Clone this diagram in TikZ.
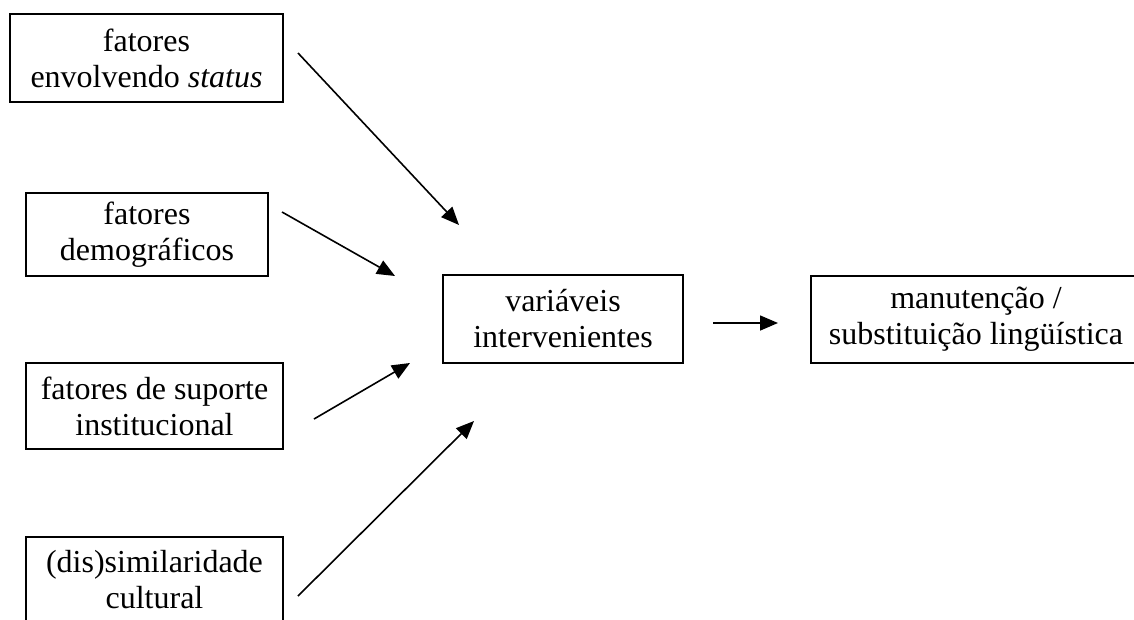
\documentclass[tikz,border=0pt]{standalone}
\usepackage{fontspec}
\setmainfont{Liberation Serif}
\usetikzlibrary{arrows.meta}
\tikzset{
  box/.style={draw, line width=1.6pt, align=center, inner sep=0pt, font=\fontsize{32}{36}\selectfont},
  arr/.style={line width=1.6pt, -{Triangle[length=18pt,width=15pt]}}
}
\begin{document}
\begin{tikzpicture}[x=1pt,y=-1pt]
\useasboundingbox (0,0) rectangle (1134,619);
\node[box, minimum width=273pt, minimum height=88pt] (b1) at (146.5,58) {fatores\\envolvendo \textit{status}};
\node[box, minimum width=242pt, minimum height=83pt] (b2) at (147,234.5) {fatores\\demográficos};
\node[box, minimum width=257pt, minimum height=86pt] (b3) at (154.5,406) {fatores de suporte\\institucional};
\node[box, minimum width=257pt, minimum height=86pt] (b4) at (154.5,580) {(dis)similaridade\\cultural};
\node[box, minimum width=240pt, minimum height=88pt] (bc) at (563,319) {variáveis\\intervenientes};
\node[box, minimum width=330pt, minimum height=87pt] (br) at (976,319.5) {manutenção /\\substituição lingüística};
\coordinate (s1) at (298,53);  \coordinate (t1) at (459,225);
\coordinate (s2) at (282,212); \coordinate (t2) at (395,276);
\coordinate (s3) at (314,419); \coordinate (t3) at (410,363);
\coordinate (s4) at (298,596); \coordinate (t4) at (474,421);
\coordinate (s5) at (713,323); \coordinate (t5) at (778,323);
\draw[arr] (s1) -- (t1);
\draw[arr] (s2) -- (t2);
\draw[arr] (s3) -- (t3);
\draw[arr] (s4) -- (t4);
\draw[arr] (s5) -- (t5);
\end{tikzpicture}
\end{document}
